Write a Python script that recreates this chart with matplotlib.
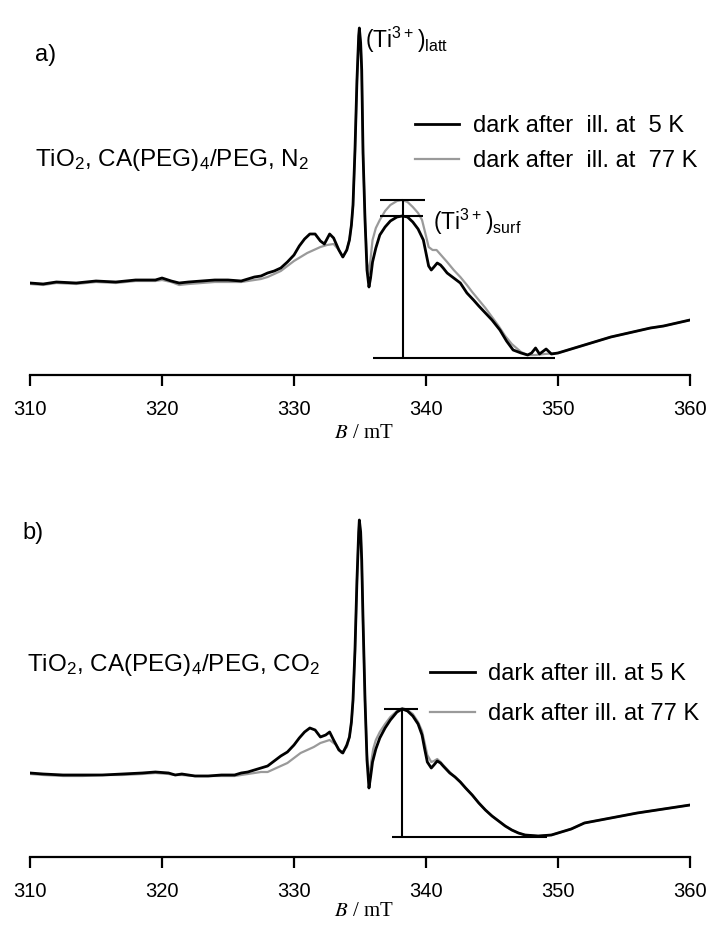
import numpy as np
import matplotlib.pyplot as plt

plt.rcParams['font.family'] = ['Liberation Sans', 'DejaVu Sans']
plt.rcParams['mathtext.default'] = 'regular'

# a) TiO2, CA(PEG)4/PEG, N2 -- field (mT) and EPR intensity (a.u.)
field_a5 = [310, 311, 312, 313.5, 315, 316.5, 318, 319.5, 320, 320.7, 321.3, 322, 323, 324, 325,
            326, 326.5, 327, 327.5, 328, 328.5, 329, 329.5, 330, 330.4, 330.8, 331.2, 331.6, 332,
            332.3, 332.7, 333, 333.4, 333.7, 334, 334.2, 334.35, 334.47, 334.62, 334.77, 334.9,
            334.95, 335.05, 335.13, 335.23, 335.38, 335.53, 335.68, 335.8, 335.95, 336.2, 336.5,
            336.9, 337.3, 337.8, 338.2, 338.6, 339, 339.4, 339.8, 340, 340.2, 340.4, 340.6, 340.85,
            341.1, 341.3, 341.6, 342.1, 342.6, 343.1, 343.6, 344, 344.5, 345, 345.6, 346.1, 346.6,
            347.2, 347.7, 348, 348.3, 348.6, 349.1, 349.5, 350, 351, 352, 353, 354, 355, 356, 357,
            358, 359, 360]
int_a5 = [75, 74, 76, 75, 77, 76, 78, 78, 80, 77, 75, 76, 77, 78, 78,
          77, 79, 81, 82, 85, 87, 90, 96, 103, 112, 119, 124, 124, 117,
          114, 124, 120, 108, 101, 108, 118, 133, 153, 208, 278, 322,
          330, 315, 288, 205, 138, 88, 71, 80, 96, 110, 123,
          131, 137, 141, 142, 141, 136, 129, 118, 105, 92, 88, 91, 95,
          93, 90, 85, 80, 75, 65, 58, 52, 45, 38, 28, 17, 8,
          5, 3, 5, 10, 4, 9, 4, 5, 9, 13, 17, 21, 24, 27, 30,
          32, 35, 38]

field_a77 = [310, 311, 312, 313.5, 315, 316.5, 318, 319.5, 320, 320.7, 321.3, 322, 323, 324, 325,
             326, 326.5, 327, 327.5, 328, 328.5, 329, 329.5, 330, 330.5, 331, 331.5, 332, 332.5,
             333, 333.4, 333.7, 334, 334.2, 334.35, 334.47, 334.62, 334.77, 334.9, 334.95, 335.05,
             335.13, 335.23, 335.38, 335.53, 335.68, 335.95, 336.2, 336.5, 336.9, 337.3, 337.8,
             338.2, 338.6, 339, 339.4, 339.7, 340, 340.2, 340.5, 340.8, 341.2, 341.6, 342.1, 342.6,
             343.1, 343.5, 344, 344.5, 345, 345.5, 346, 346.5, 347.2, 347.7, 348.3, 349, 350, 351,
             352, 353, 354, 355, 356, 357, 358, 359, 360]
int_a77 = [74, 73, 75, 74, 76, 75, 77, 77, 78, 76, 73, 74, 75, 76, 76,
           76, 77, 78, 79, 81, 84, 87, 92, 97, 101, 105, 108, 111, 113,
           114, 108, 101, 108, 118, 133, 152, 206, 276, 320, 328, 313,
           286, 205, 140, 96, 84, 118, 130, 138, 147, 153, 157,
           158, 156, 151, 145, 138, 122, 111, 108, 108, 102, 96, 88, 81,
           73, 66, 58, 50, 41, 32, 22, 14, 6, 3, 3, 4, 5, 9,
           13, 17, 21, 24, 27, 30, 32, 35, 38]

# b) TiO2, CA(PEG)4/PEG, CO2
field_b5 = [310, 311, 312.5, 314, 315.5, 317, 318.5, 319.5, 320.5, 321, 321.5, 322.5, 323.5, 324.5,
            325.5, 326, 326.5, 327, 327.5, 328, 328.5, 329, 329.5, 330, 330.4, 330.8, 331.2, 331.6,
            332, 332.4, 332.7, 333, 333.4, 333.7, 334, 334.2, 334.35, 334.47, 334.62, 334.77, 334.9,
            334.95, 335.05, 335.13, 335.23, 335.38, 335.53, 335.68, 335.8, 335.95, 336.2, 336.5,
            336.9, 337.3, 337.8, 338.2, 338.6, 339, 339.4, 339.7, 339.9, 340.1, 340.4, 340.6,
            340.85, 341.1, 341.3, 341.8, 342.2, 342.6, 343, 343.5, 344, 344.5, 345, 345.5, 346,
            346.5, 347, 347.5, 348.5, 349.5, 350.5, 351, 352, 354, 356, 358, 360]
int_b5 = [64, 63, 62, 62, 62, 63, 64, 65, 64, 62, 63, 61, 61, 62,
          62, 64, 65, 67, 69, 71, 76, 81, 85, 92, 99, 105, 109, 107,
          100, 102, 105, 97, 87, 84, 92, 100, 115, 137, 187, 257, 305,
          317, 305, 277, 217, 137, 77, 49, 60, 75, 88, 99,
          109, 117, 125, 128, 126, 121, 113, 102, 88, 75, 69, 72,
          76, 74, 71, 64, 60, 55, 49, 42, 34, 27, 21, 16, 11,
          7, 4, 2, 1, 2, 6, 8, 14, 19, 24, 28, 32]

field_b77 = [310, 311, 312.5, 314, 315.5, 317, 318.5, 319.5, 320.5, 321, 321.5, 322.5, 323.5, 324.5,
             325.5, 326, 326.5, 327.5, 328, 328.5, 329.5, 330.5, 331.5, 332, 332.7, 333.2, 333.6,
             334, 334.2, 334.35, 334.47, 334.62, 334.77, 334.9, 334.95, 335.05, 335.13, 335.23,
             335.38, 335.53, 335.7, 335.85, 336, 336.2, 336.5, 336.9, 337.3, 337.8, 338.2, 338.6,
             339, 339.4, 339.7, 339.9, 340.1, 340.4, 340.6, 340.85, 341.1, 341.3, 341.8, 342.2,
             342.6, 343, 343.5, 344, 344.5, 345, 345.5, 346, 346.5, 347, 347.5, 348.5, 349.5,
             350.5, 351, 352, 354, 356, 358, 360]
int_b77 = [63, 62, 61, 61, 62, 62, 63, 64, 63, 62, 62, 61, 61, 61,
           61, 62, 63, 65, 65, 68, 74, 84, 90, 94, 97, 92, 84,
           90, 100, 114, 135, 185, 255, 303, 315, 303, 275, 215,
           137, 82, 58, 75, 88, 97, 105, 113, 120, 126, 129, 127,
           123, 115, 106, 94, 82, 75, 76, 78, 75, 72, 65, 60,
           55, 49, 42, 34, 27, 21, 16, 11, 7, 4, 2, 1, 2,
           6, 8, 14, 19, 24, 28, 32]

ticks = [310, 320, 330, 340, 350, 360]
label_5 = 'dark after  ill. at  5 K'
label_77 = 'dark after  ill. at  77 K'

fig = plt.figure(figsize=(7.09, 9.25), dpi=100)
ax_a = fig.add_axes([30 / 709, 550 / 925, 660 / 709, 365 / 925])
ax_b = fig.add_axes([30 / 709, 68 / 925, 660 / 709, 367 / 925])


def style_axis(ax, ylim):
    ax.set_xlim(310, 360)
    ax.set_ylim(*ylim)
    for side in ['left', 'right', 'top']:
        ax.spines[side].set_visible(False)
    ax.spines['bottom'].set_linewidth(1.6)
    ax.set_yticks([])
    ax.set_xticks(ticks)
    ax.tick_params(axis='x', direction='out', length=8, width=1.6, pad=10, labelsize=14.5)
    ax.patch.set_alpha(0)


def hump_max(x, y):
    x = np.asarray(x)
    y = np.asarray(y)
    sel = (x > 336) & (x < 340.5)
    return y[sel].max()


# panel a
ax_a.plot(field_a77, int_a77, color='#9a9a9a', lw=1.6, label=label_77)
ax_a.plot(field_a5, int_a5, color='black', lw=2.0, label=label_5)
style_axis(ax_a, (-17, 348))

top5 = hump_max(field_a5, int_a5)
top77 = hump_max(field_a77, int_a77)
ax_a.hlines([top77], 336.5, 339.9, color='black', lw=1.5)
ax_a.hlines([top5], 336.5, 339.75, color='black', lw=1.5)
ax_a.vlines(338.25, 0, top77, color='black', lw=1.5)
ax_a.hlines(0, 335.95, 349.8, color='black', lw=1.5)

ax_a.text(335.4, 318, '(Ti$^{3+}$)$_{latt}$', fontsize=16.5, va='center', ha='left')
ax_a.text(340.5, 136, '(Ti$^{3+}$)$_{surf}$', fontsize=16.5, va='center', ha='left')

h = ax_a.get_legend_handles_labels()
ax_a.legend(h[0][::-1], h[1][::-1], loc='upper left', frameon=False, fontsize=17,
            bbox_to_anchor=(415 / 709, 1 - 115 / 925), bbox_transform=fig.transFigure,
            handlelength=1.85, handletextpad=0.6, labelspacing=0.55, borderpad=0, borderaxespad=0)

fig.text(35 / 709, 1 - 55 / 925, 'a)', fontsize=17, va='center', ha='left')
fig.text(35 / 709, 1 - 160 / 925, 'TiO$_2$, CA(PEG)$_4$/PEG, N$_2$', fontsize=17.5,
         va='center', ha='left')
fig.text(364 / 709, 1 - 433 / 925, '$\\it{B}$ / mT', fontsize=15, va='center', ha='center',
         family='Liberation Serif', math_fontfamily='stix')

# panel b
ax_b.plot(field_b77, int_b77, color='#9a9a9a', lw=1.6, label='dark after ill. at 77 K')
ax_b.plot(field_b5, int_b5, color='black', lw=2.0, label='dark after ill. at 5 K')
style_axis(ax_b, (-20, 347))

topb = hump_max(field_b5, int_b5)
ax_b.hlines(topb, 336.8, 339.4, color='black', lw=1.5)
ax_b.vlines(338.2, 0, topb, color='black', lw=1.5)
ax_b.hlines(0, 337.4, 349.2, color='black', lw=1.5)

h = ax_b.get_legend_handles_labels()
ax_b.legend(h[0][::-1], h[1][::-1], loc='upper left', frameon=False, fontsize=17,
            bbox_to_anchor=(430 / 709, 1 - 663 / 925), bbox_transform=fig.transFigure,
            handlelength=1.9, handletextpad=0.55, labelspacing=0.76, borderpad=0, borderaxespad=0)

fig.text(22 / 709, 1 - 533 / 925, 'b)', fontsize=17, va='center', ha='left')
fig.text(27 / 709, 1 - 665 / 925, 'TiO$_2$, CA(PEG)$_4$/PEG, CO$_2$', fontsize=17.5,
         va='center', ha='left')
fig.text(364 / 709, 1 - 912 / 925, '$\\it{B}$ / mT', fontsize=15, va='center', ha='center',
         family='Liberation Serif', math_fontfamily='stix')

fig.savefig('out.png', dpi=100, facecolor='white')
